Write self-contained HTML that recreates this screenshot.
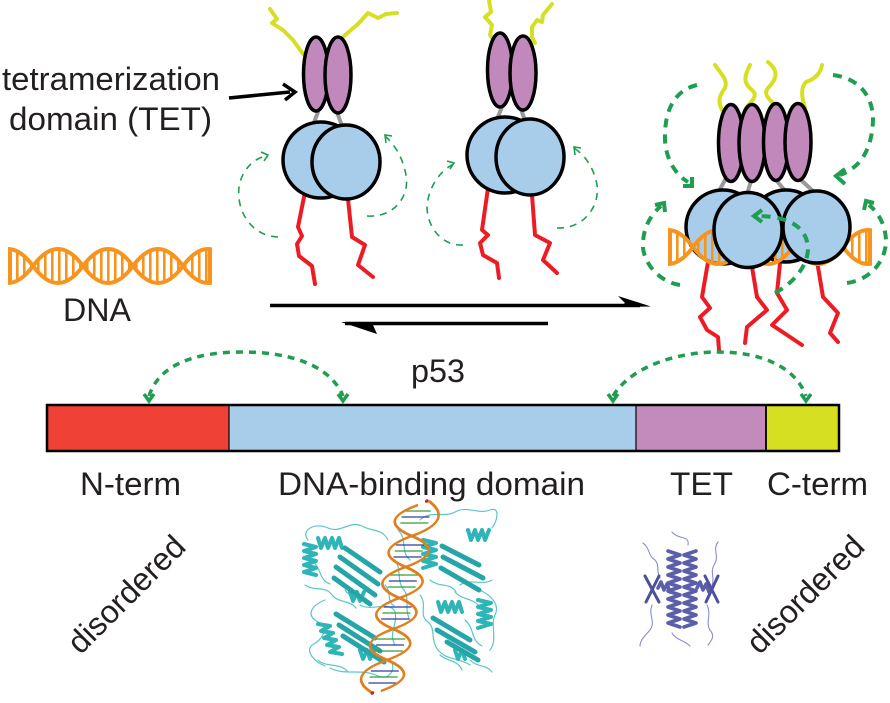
<!DOCTYPE html>
<html><head><meta charset="utf-8"><style>
html,body{margin:0;padding:0;background:#fff;}
svg{display:block;}
text{font-family:"Liberation Sans",Arial,sans-serif;fill:#231f20;}
</style></head><body>
<svg width="890" height="703" viewBox="0 0 890 703" xmlns="http://www.w3.org/2000/svg">
<defs>
<clipPath id="dnaclip"><rect x="8" y="230" width="204" height="70"/></clipPath>
<pattern id="rungs" width="7" height="10" patternUnits="userSpaceOnUse"><rect x="2" y="0" width="2.6" height="10" fill="#f7941d"/></pattern>
<g id="dna">
<g clip-path="url(#dnaclip)">
<path fill="url(#rungs)" fill-rule="evenodd" d="M -17 266 Q 8 300 33 266 T 83 266 T 133 266 T 183 266 T 233 266 L 233 400 L -17 400 Z M -17 266 Q 8 232 33 266 T 83 266 T 133 266 T 183 266 T 233 266 L 233 400 L -17 400 Z"/>
<path fill="none" stroke="#f7941d" stroke-width="4" d="M -17 266 Q 8 300 33 266 T 83 266 T 133 266 T 183 266 T 233 266"/>
<path fill="none" stroke="#f7941d" stroke-width="4" d="M -17 266 Q 8 232 33 266 T 83 266 T 133 266 T 183 266 T 233 266"/>
</g>
<line x1="10" y1="249" x2="10" y2="283" stroke="#f7941d" stroke-width="4"/>
<line x1="210" y1="250" x2="210" y2="282" stroke="#f7941d" stroke-width="4"/>
</g>
</defs>

<!-- left labels -->
<text x="2" y="90" font-size="32" textLength="218" lengthAdjust="spacingAndGlyphs">tetramerization</text>
<text x="9" y="130" font-size="32" textLength="203" lengthAdjust="spacingAndGlyphs">domain (TET)</text>
<line x1="229" y1="98" x2="290" y2="92" stroke="#000" stroke-width="3.5"/>
<polyline points="283,84 295,92 285,100" fill="none" stroke="#000" stroke-width="3.5"/>

<!-- DNA left -->
<use href="#dna"/>
<text x="63" y="321" font-size="32" textLength="68" lengthAdjust="spacingAndGlyphs">DNA</text>

<!-- ===== Dimer 1 ===== -->
<g fill="none" stroke-linecap="round" stroke-linejoin="round">
<path d="M270 9 L277 19 L272 23 L283 30 L293 40 L303 54" stroke="#d7df23" stroke-width="4"/>
<path d="M344 36 L358 24 L368 13 L378 18 L386 14 L397 13" stroke="#d7df23" stroke-width="4"/>
<line x1="318" y1="112" x2="313" y2="125" stroke="#999" stroke-width="4"/>
<line x1="337" y1="112" x2="342" y2="126" stroke="#999" stroke-width="4"/>
<path d="M305 192 L298 227 L302 236 L297 244 L299 256 L312 266 L315 284" stroke="#ed1c24" stroke-width="4"/>
<path d="M348 199 L352 237 L365 245 L358 265 L373 277" stroke="#ed1c24" stroke-width="4"/>
</g>
<ellipse cx="316" cy="74" rx="12.5" ry="37" fill="#c189bb" stroke="#000" stroke-width="3.5"/>
<ellipse cx="338" cy="75" rx="13" ry="38" fill="#c189bb" stroke="#000" stroke-width="3.5"/>
<circle cx="321" cy="160" r="38" fill="#a7cdeb" stroke="#000" stroke-width="3.5"/>
<ellipse cx="346" cy="162" rx="34" ry="37" fill="#a7cdeb" stroke="#000" stroke-width="3.5"/>
<g fill="none" stroke="#1f9d50" stroke-width="1.6">
<path d="M278 237 C 248 236 234 205 240 182 C 245 166 256 158 268 155" stroke-dasharray="7 6"/>
<polyline points="261,152 268,155 264,161"/>
<path d="M367 216 C 395 218 410 195 406 175 C 403 158 395 145 385 136" stroke-dasharray="7 6"/>
<polyline points="392,136 385,135 386,143"/>
</g>

<!-- ===== Dimer 2 ===== -->
<g fill="none" stroke-linecap="round" stroke-linejoin="round">
<path d="M489 0 L491 12 L485 17 L492 25 L490 35 L495 42" stroke="#d7df23" stroke-width="4"/>
<path d="M552 4 L543 15 L542 22 L537 20 L532 27 L532 37 L535 43" stroke="#d7df23" stroke-width="4"/>
<line x1="502" y1="107" x2="497" y2="119" stroke="#999" stroke-width="4"/>
<line x1="521" y1="109" x2="525" y2="121" stroke="#999" stroke-width="4"/>
<path d="M488 188 L482 230 L488 235 L480 243 L483 255 L497 263 L499 278" stroke="#ed1c24" stroke-width="4"/>
<path d="M532 195 L535 235 L550 243 L543 260 L557 273" stroke="#ed1c24" stroke-width="4"/>
</g>
<ellipse cx="500" cy="70" rx="12.5" ry="37" fill="#c189bb" stroke="#000" stroke-width="3.5"/>
<ellipse cx="523" cy="73" rx="13" ry="37" fill="#c189bb" stroke="#000" stroke-width="3.5"/>
<circle cx="505" cy="155" r="38" fill="#a7cdeb" stroke="#000" stroke-width="3.5"/>
<ellipse cx="530" cy="157" rx="34" ry="38" fill="#a7cdeb" stroke="#000" stroke-width="3.5"/>
<g fill="none" stroke="#1f9d50" stroke-width="1.6">
<path d="M463 245 C 440 246 427 225 427 207 C 428 188 440 170 454 164" stroke-dasharray="7 6"/>
<polyline points="447,161 454,163 450,169"/>
<path d="M557 228 C 585 229 600 205 597 185 C 594 168 585 155 574 148" stroke-dasharray="7 6"/>
<polyline points="581,148 574,147 575,155"/>
</g>

<!-- equilibrium arrows -->
<line x1="270" y1="305.5" x2="640" y2="305.5" stroke="#000" stroke-width="3.5"/>
<polygon points="618,296 651,306.5 620,307 625,303" fill="#000"/>
<line x1="345" y1="323.5" x2="548" y2="323.5" stroke="#000" stroke-width="3.5"/>
<polygon points="341,322 377,334 373,325 372,322" fill="#000"/>

<!-- ===== Tetramer ===== -->
<g fill="none" stroke-linecap="round" stroke-linejoin="round">
<path d="M715 65 C 722 75 728 80 725 88 C 720 95 717 100 722 110" stroke="#d7df23" stroke-width="4"/>
<path d="M750 65 C 745 75 742 82 752 90 C 760 97 748 103 745 110" stroke="#d7df23" stroke-width="4"/>
<path d="M768 62 C 778 70 778 78 768 88 C 762 96 772 100 775 106" stroke="#d7df23" stroke-width="4"/>
<path d="M822 65 C 820 76 812 80 806 82 C 800 88 802 98 805 108" stroke="#d7df23" stroke-width="4"/>
<line x1="725" y1="180" x2="718" y2="193" stroke="#999" stroke-width="4"/>
<line x1="751" y1="181" x2="747" y2="194" stroke="#999" stroke-width="4"/>
<line x1="776" y1="180" x2="787" y2="193" stroke="#999" stroke-width="4"/>
<line x1="800" y1="179" x2="815" y2="193" stroke="#999" stroke-width="4"/>
<path d="M708 262 L702 297 L710 308 L700 317 L707 330 L718 337 L719 350" stroke="#ed1c24" stroke-width="4"/>
<path d="M752 267 L757 297 L767 310 L747 327 L745 343" stroke="#ed1c24" stroke-width="4"/>
<path d="M780 263 L777 293 L787 310 L772 325 L802 345" stroke="#ed1c24" stroke-width="4"/>
<path d="M818 267 L823 297 L838 313 L830 333 L838 342" stroke="#ed1c24" stroke-width="4"/>
</g>
<ellipse cx="731" cy="143" rx="12.5" ry="38.5" fill="#c189bb" stroke="#000" stroke-width="3.5"/>
<ellipse cx="752" cy="143" rx="13" ry="38.5" fill="#c189bb" stroke="#000" stroke-width="3.5"/>
<ellipse cx="776" cy="142" rx="12.5" ry="38.5" fill="#c189bb" stroke="#000" stroke-width="3.5"/>
<ellipse cx="798" cy="142" rx="13" ry="38.5" fill="#c189bb" stroke="#000" stroke-width="3.5"/>
<circle cx="723" cy="227" r="37" fill="#a7cdeb" stroke="#000" stroke-width="3.5"/>
<circle cx="786" cy="226" r="36" fill="#a7cdeb" stroke="#000" stroke-width="3.5"/>
<use href="#dna" transform="translate(660,-19)"/>
<ellipse cx="748" cy="230" rx="34" ry="37.5" fill="#a7cdeb" stroke="#000" stroke-width="3.5"/>
<ellipse cx="816.5" cy="227" rx="33.5" ry="36" fill="#a7cdeb" stroke="#000" stroke-width="3.5"/>
<g fill="none" stroke="#1f9d50" stroke-width="4" stroke-linejoin="miter">
<path d="M697 85 C 675 90 664 110 665 140 C 666 160 676 175 688 182" stroke-dasharray="9 7"/>
<polyline points="683,186 692,186 692,177"/>
<path d="M833 75 C 858 78 873 95 873 120 C 872 150 860 168 840 175" stroke-dasharray="9 7"/>
<polyline points="845,169 836,176 845,184"/>
<path d="M680 285 C 660 282 645 265 643 248 C 642 230 650 215 661 206" stroke-dasharray="9 7"/>
<polyline points="655,205 664,203 665,212"/>
<path d="M847 283 C 870 280 885 262 886 242 C 886 225 878 212 869 205" stroke-dasharray="9 7"/>
<polyline points="874,203 866,201 864,210"/>
<path d="M775 293 C 795 282 808 265 808 248 C 807 228 790 216 757 216" stroke-dasharray="9 7"/>
<polyline points="762,210 754,216 762,222"/>
</g>

<!-- p53 label and arcs -->
<text x="411" y="382" font-size="32" textLength="54" lengthAdjust="spacingAndGlyphs">p53</text>
<g fill="none" stroke="#1f9d50" stroke-width="3.5">
<path d="M149 396 C 160 362 200 352 242 352 C 290 352 330 365 343 396" stroke-dasharray="7 6"/>
<polyline points="144,394 149,401 154,394"/>
<polyline points="338,394 343,401 348,394"/>
<path d="M613 396 C 632 365 680 352 718 352 C 760 352 795 366 806 396" stroke-dasharray="7 6"/>
<polyline points="608,394 613,401 618,394"/>
<polyline points="801,394 806,401 811,394"/>
</g>

<!-- domain bar -->
<rect x="47" y="405" width="182" height="46" fill="#ef4136"/>
<rect x="229" y="405" width="407" height="46" fill="#a7cdeb"/>
<rect x="636" y="405" width="130" height="46" fill="#c28bbb"/>
<rect x="766" y="405" width="73" height="46" fill="#d6df22"/>
<rect x="47" y="405" width="792" height="46" fill="none" stroke="#000" stroke-width="2.5"/>
<line x1="229" y1="405" x2="229" y2="451" stroke="#000" stroke-width="1.2"/>
<line x1="636" y1="405" x2="636" y2="451" stroke="#000" stroke-width="1.2"/>
<line x1="766" y1="405" x2="766" y2="451" stroke="#000" stroke-width="1.8"/>

<text x="80" y="495" font-size="32" textLength="101" lengthAdjust="spacingAndGlyphs">N-term</text>
<text x="278" y="495" font-size="32" textLength="307" lengthAdjust="spacingAndGlyphs">DNA-binding domain</text>
<text x="670" y="495" font-size="32" textLength="63" lengthAdjust="spacingAndGlyphs">TET</text>
<text x="767" y="495" font-size="32" textLength="101" lengthAdjust="spacingAndGlyphs">C-term</text>

<text transform="translate(134,602) rotate(-45)" text-anchor="middle" font-size="32">disordered</text>
<text transform="translate(813,602) rotate(-45)" text-anchor="middle" font-size="32">disordered</text>

<!-- ===== DBD structure (cyan) ===== -->
<g fill="none" stroke-linecap="round" stroke-linejoin="round">
<!-- thin loops -->
<g stroke="#5cc6c6" stroke-width="1.2">
<path d="M308 540 C 300 530 315 522 328 528 C 340 534 350 520 362 526 C 372 532 382 528 388 540"/>
<path d="M325 600 C 312 605 305 615 318 622 C 330 628 322 640 312 645 C 305 652 315 662 325 666"/>
<path d="M360 605 C 372 612 390 600 395 612 C 398 625 388 632 395 645"/>
<path d="M330 668 C 345 676 362 668 378 676 C 388 680 395 672 392 662"/>
<path d="M420 520 C 430 510 445 518 455 512 C 468 505 478 515 490 510 C 500 506 498 520 492 528"/>
<path d="M480 590 C 492 596 500 605 495 615 C 490 625 498 640 490 650"/>
<path d="M420 595 C 428 605 418 615 428 622 C 436 628 430 640 438 650 C 446 660 460 658 470 665"/>
<path d="M455 592 C 462 600 472 598 478 605"/>
<path d="M345 590 C 350 598 360 596 366 604"/>
<path d="M395 560 C 402 570 396 580 404 590 C 410 598 404 610 410 620"/>
<path d="M398 530 C 408 540 400 552 410 560"/>
<path d="M470 660 C 478 668 486 664 492 672"/>
<path d="M305 585 C 315 592 325 585 332 595 C 338 603 350 600 356 608"/>
<path d="M310 560 C 322 566 318 580 330 584"/>
<path d="M385 585 C 392 592 386 600 394 606"/>
<path d="M318 660 C 326 668 340 662 348 672"/>
<path d="M460 585 C 470 578 482 586 492 580"/>
<path d="M430 580 C 440 588 450 582 456 592"/>
<path d="M465 620 C 475 628 470 640 482 646"/>
<path d="M440 655 C 448 662 458 660 462 670"/>
</g>
<!-- helices -->
<g stroke="#2db5b7" stroke-width="4">
<path d="M304 544 l12 3 l-12 4 l12 3 l-12 4 l12 3 l-12 4 l12 3 l-12 4 l12 3"/>
<path d="M318 538 l3 10 l4 -10 l3 10 l4 -10 l3 10 l4 -10 l3 10"/>
<path d="M318 624 l12 2 l-9 5 l12 2 l-9 5 l12 2 l-9 5 l12 2 l-9 5 l12 2"/>
<path d="M423 540 l13 3 l-13 4 l13 3 l-13 4 l13 3 l-13 4 l13 3 l-13 4"/>
<path d="M468 530 l3 10 l4 -10 l3 10 l4 -10 l3 10 l4 -10"/>
<path d="M478 600 l13 3 l-13 4 l13 3 l-13 4 l13 3 l-13 4 l13 3 l-13 4"/>
<path d="M438 602 l3 10 l4 -10 l3 10 l4 -10 l3 10 l4 -10 l3 10"/>
<path d="M350 592 l3 9 l4 -9 l3 9 l4 -9"/>
<path d="M360 650 l3 9 l4 -9 l3 9 l4 -9"/>
<path d="M455 650 l3 9 l4 -9 l3 9"/>
</g>
<!-- sheets -->
<g stroke="#25a5a8" stroke-width="5">
<line x1="345" y1="548" x2="380" y2="572"/>
<line x1="340" y1="557" x2="378" y2="584"/>
<line x1="336" y1="567" x2="375" y2="595"/>
<line x1="334" y1="578" x2="370" y2="604"/>
<line x1="336" y1="614" x2="375" y2="638"/>
<line x1="339" y1="625" x2="380" y2="651"/>
<line x1="343" y1="636" x2="384" y2="662"/>
<line x1="442" y1="546" x2="479" y2="565"/>
<line x1="443" y1="557" x2="483" y2="578"/>
<line x1="441" y1="568" x2="479" y2="590"/>
<line x1="433" y1="618" x2="470" y2="640"/>
<line x1="437" y1="630" x2="475" y2="652"/>
<line x1="447" y1="642" x2="478" y2="660"/>
</g>
</g>
<!-- DBD DNA -->
<g transform="translate(418,505) skewX(-11.3)">
<g stroke-width="1.3">
<line x1="-14" y1="6" x2="14" y2="6" stroke="#3a9a3a"/>
<line x1="-14" y1="12" x2="14" y2="12" stroke="#2d3f9e"/>
<line x1="-14" y1="18" x2="14" y2="18" stroke="#3a9a3a"/>
<line x1="-14" y1="40" x2="14" y2="40" stroke="#2d3f9e"/>
<line x1="-14" y1="46" x2="14" y2="46" stroke="#3a9a3a"/>
<line x1="-14" y1="52" x2="14" y2="52" stroke="#2d3f9e"/>
<line x1="-14" y1="70" x2="14" y2="70" stroke="#3a9a3a"/>
<line x1="-14" y1="76" x2="14" y2="76" stroke="#2d3f9e"/>
<line x1="-14" y1="82" x2="14" y2="82" stroke="#3a9a3a"/>
<line x1="-14" y1="102" x2="14" y2="102" stroke="#2d3f9e"/>
<line x1="-14" y1="108" x2="14" y2="108" stroke="#3a9a3a"/>
<line x1="-14" y1="114" x2="14" y2="114" stroke="#2d3f9e"/>
<line x1="-14" y1="134" x2="14" y2="134" stroke="#3a9a3a"/>
<line x1="-14" y1="140" x2="14" y2="140" stroke="#2d3f9e"/>
<line x1="-14" y1="146" x2="14" y2="146" stroke="#3a9a3a"/>
<line x1="-14" y1="166" x2="14" y2="166" stroke="#2d3f9e"/>
<line x1="-14" y1="172" x2="14" y2="172" stroke="#3a9a3a"/>
<line x1="-14" y1="178" x2="14" y2="178" stroke="#2d3f9e"/>
</g>
<path d="M0 0 Q -40 15.5 0 31 T 0 62 T 0 93 T 0 124 T 0 155 T 0 186" fill="none" stroke="#e07f1e" stroke-width="2.6"/>
<path d="M10 -4 Q 40 15.5 0 31 T 0 62 T 0 93 T 0 124 T 0 155 T -8 188" fill="none" stroke="#e07f1e" stroke-width="2.6"/>
<circle cx="8" cy="-4" r="1.8" fill="#d02020"/>
<circle cx="-8" cy="188" r="1.8" fill="#d02020"/>
</g>

<!-- ===== TET structure (slate blue) ===== -->
<g fill="none" stroke-linecap="round" stroke-linejoin="round">
<g stroke="#8a8ed0" stroke-width="1.1">
<path d="M643 543 C 650 548 648 556 655 560 C 660 565 656 572 660 578"/>
<path d="M672 532 C 678 540 690 535 688 545"/>
<path d="M718 542 C 712 550 720 556 714 565 C 710 572 715 578 712 585"/>
<path d="M652 605 C 648 615 656 622 650 630 C 645 636 640 640 640 646"/>
<path d="M707 605 C 712 615 705 622 710 630 C 715 636 712 640 708 645"/>
<path d="M672 633 C 676 640 684 640 690 646"/>
</g>
<g stroke="#5b5ea8" stroke-width="3.6">
<path d="M668 551 l12 4 l-12 4 l12 4 l-12 4 l12 4 l-12 4 l12 4 l-12 4 l12 4 l-12 4 l12 4 l-12 4 l12 4 l-12 4 l12 4 l-12 4 l12 4 l-12 4 l12 4"/>
<path d="M696 551 l-12 4 l12 4 l-12 4 l12 4 l-12 4 l12 4 l-12 4 l12 4 l-12 4 l12 4 l-12 4 l12 4 l-12 4 l12 4 l-12 4 l12 4 l-12 4 l12 4 l-12 4"/>
<path d="M658 588 l3 -6 l3 8 l3 -6 l3 8"/>
<path d="M697 588 l3 -6 l3 8 l3 -6 l3 8"/>
</g>
<g stroke="#4d509a" stroke-width="3">
<line x1="645" y1="576" x2="659" y2="602"/>
<line x1="659" y1="576" x2="646" y2="602"/>
<line x1="705" y1="576" x2="718" y2="602"/>
<line x1="718" y1="576" x2="706" y2="602"/>
</g>
</g>
</svg>
</body></html>
